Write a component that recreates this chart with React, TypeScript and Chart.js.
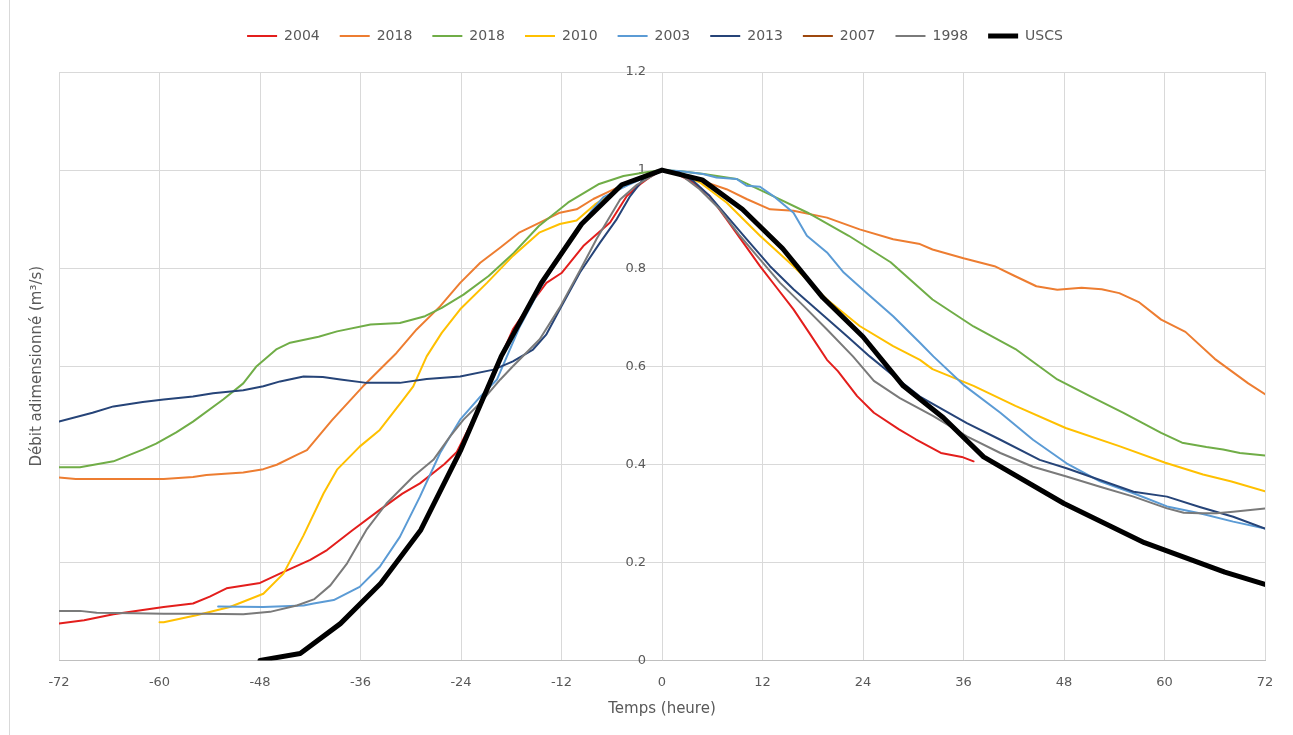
import React, { useEffect, useRef } from "react";
import { Chart, registerables } from "chart.js";

Chart.register(...registerables);

const FONT = "'DejaVu Sans', 'Liberation Sans', sans-serif";
const TEXT = "#595959";
const GRID = "#D9D9D9";

// Axis settings / labels
const xMin = -72;
const xMax = 72;
const xStep = 12;
const yMin = 0;
const yMax = 1.2;
const yStep = 0.2;
const yLabelAt = -1.9; // hour where the value labels sit, just left of the 0 line
const xTitle = "Temps (heure)";
const yTitle = "Débit adimensionné (m³/s)";

// Series
const seriesNames = ["2004", "2018", "2018", "2010", "2003", "2013", "2007", "1998", "USCS"];
const seriesColors = ["#E31E1C", "#ED7D31", "#70AD47", "#FFC000", "#5B9BD5", "#264478", "#9E480E", "#7A7A7A", "#000000"];
const seriesWidths = [2, 2, 2, 2, 2, 2, 2, 2, 5];

const h2004 = [-72, -69, -65.5, -62, -59.5, -56, -54, -52, -48, -45.5, -42, -40, -37, -33.7, -31, -28.9, -26, -24.5, -22, -19.5, -17.8, -16, -13.8, -12, -9.4, -6.2, -4.2, -2.6, -1.5, 0, 2, 3.7, 5.7, 7.7, 9.7, 11.7, 13.7, 15.7, 17.7, 19.7, 21, 23.3, 25.3, 28.3, 30.3, 33.3, 35.8, 37.2];
const q2004 = [0.075, 0.082, 0.094, 0.103, 0.109, 0.116, 0.13, 0.147, 0.158, 0.178, 0.205, 0.225, 0.265, 0.307, 0.34, 0.361, 0.4, 0.425, 0.51, 0.61, 0.675, 0.72, 0.77, 0.79, 0.845, 0.893, 0.947, 0.971, 0.985, 1, 0.99, 0.975, 0.947, 0.9, 0.852, 0.804, 0.76, 0.716, 0.665, 0.613, 0.59, 0.539, 0.505, 0.471, 0.451, 0.423, 0.415, 0.406];

const h2018a = [-72, -70, -66, -62, -59.5, -56, -54.4, -50, -47.6, -46, -43.6, -42.4, -39.4, -35.7, -31.7, -29.3, -26.5, -24.1, -21.7, -19.3, -17, -14.6, -12.2, -10.2, -8.2, -6.6, -4, -2, 0, 2.5, 5.3, 7.7, 10.1, 12.9, 15.7, 19.7, 23.6, 27.6, 30.8, 32.3, 36, 39.7, 42, 44.7, 47.2, 50.1, 52.5, 54.6, 57, 59.6, 62.5, 66, 68, 70, 72];
const q2018a = [0.373, 0.37, 0.37, 0.37, 0.37, 0.374, 0.378, 0.383, 0.39, 0.399, 0.419, 0.429, 0.49, 0.559, 0.627, 0.675, 0.722, 0.77, 0.811, 0.842, 0.873, 0.893, 0.913, 0.92, 0.941, 0.954, 0.975, 0.99, 1, 0.99, 0.975, 0.961, 0.941, 0.92, 0.917, 0.903, 0.879, 0.859, 0.849, 0.838, 0.82, 0.804, 0.785, 0.763, 0.756, 0.76, 0.757, 0.749, 0.73, 0.695, 0.67, 0.615, 0.59, 0.565, 0.543];

const h2018b = [-72, -69.5, -65.5, -62, -60.4, -58, -56, -52.4, -50, -48.4, -46, -44.4, -41, -38.8, -34.8, -31.3, -28.3, -26.3, -23.7, -20.7, -17.7, -14.7, -11.2, -7.6, -4.6, -2.1, 0, 2.5, 5, 8.9, 12.4, 17.4, 22.3, 27.3, 32.3, 37.2, 42.2, 47.2, 51.1, 55.1, 59.6, 62.1, 65, 67, 69, 72];
const q2018b = [0.394, 0.394, 0.406, 0.43, 0.442, 0.465, 0.487, 0.532, 0.565, 0.6, 0.635, 0.648, 0.66, 0.671, 0.685, 0.688, 0.702, 0.719, 0.746, 0.784, 0.831, 0.886, 0.934, 0.971, 0.988, 0.995, 1, 0.997, 0.992, 0.982, 0.954, 0.913, 0.866, 0.812, 0.736, 0.681, 0.635, 0.573, 0.539, 0.505, 0.464, 0.444, 0.435, 0.43, 0.423, 0.418];

const h2010 = [-60, -59.5, -55.6, -51.6, -47.6, -45.2, -42.8, -40.4, -38.8, -36.1, -33.7, -30.9, -29.7, -28.1, -26.3, -24.1, -20.9, -17.8, -14.6, -12.2, -10.2, -8, -4, 0, 1.8, 4.5, 7.7, 11.7, 15.7, 19.7, 23.6, 27.6, 30.8, 32.3, 37.2, 42.2, 48.2, 54.6, 60.1, 64.6, 68, 72];
const q2010 = [0.078, 0.078, 0.092, 0.109, 0.136, 0.177, 0.255, 0.341, 0.389, 0.436, 0.47, 0.532, 0.559, 0.62, 0.668, 0.716, 0.77, 0.825, 0.873, 0.89, 0.897, 0.93, 0.975, 1, 0.995, 0.975, 0.934, 0.866, 0.804, 0.736, 0.682, 0.641, 0.613, 0.594, 0.56, 0.519, 0.474, 0.437, 0.403, 0.379, 0.365, 0.345];

const h2003 = [-53, -47.6, -42.8, -41.6, -39.2, -36.1, -33.7, -31.3, -28.9, -26.5, -24.1, -21.7, -19.7, -17, -14.5, -12, -10, -8.5, -7, -4, -2, 0, 2, 4.9, 6.5, 8.9, 10.1, 11.7, 13.3, 15.7, 17.3, 19.7, 21.7, 24.4, 27.6, 30.8, 32.4, 36, 40.4, 44.3, 48.3, 52.3, 56.3, 60.3, 64.2, 68.2, 72];
const q2003 = [0.11, 0.109, 0.112, 0.116, 0.123, 0.15, 0.191, 0.252, 0.334, 0.423, 0.491, 0.538, 0.573, 0.68, 0.76, 0.83, 0.88, 0.915, 0.945, 0.97, 0.985, 1, 0.998, 0.992, 0.985, 0.982, 0.968, 0.966, 0.947, 0.913, 0.866, 0.832, 0.791, 0.75, 0.702, 0.648, 0.62, 0.562, 0.505, 0.45, 0.402, 0.365, 0.341, 0.314, 0.3, 0.283, 0.269];

const h2013 = [-72, -68, -65.5, -62, -59.5, -56, -53.6, -50, -47.6, -45.6, -42.8, -40.5, -38.4, -35.3, -31.3, -28.1, -24.1, -20.1, -17.8, -15.4, -13.8, -12.2, -9.8, -7.4, -5.4, -3.8, -2.2, 0, 2.1, 3.7, 5.7, 7.7, 10.1, 12.9, 15.7, 18.9, 22.1, 24.8, 27.3, 30.8, 36.4, 40.4, 45.1, 48.3, 52.3, 56.3, 60.3, 64.2, 68.2, 72];
const q2013 = [0.487, 0.505, 0.518, 0.527, 0.532, 0.538, 0.545, 0.551, 0.559, 0.569, 0.579, 0.578, 0.573, 0.566, 0.566, 0.574, 0.579, 0.593, 0.61, 0.634, 0.665, 0.716, 0.791, 0.852, 0.9, 0.947, 0.982, 1, 0.995, 0.978, 0.947, 0.907, 0.859, 0.804, 0.757, 0.709, 0.661, 0.62, 0.585, 0.538, 0.484, 0.45, 0.409, 0.392, 0.368, 0.344, 0.334, 0.313, 0.293, 0.269];

const h2007: number[] = [];
const q2007: number[] = [];

const h1998 = [-72, -69.5, -67.5, -63, -59.5, -54.8, -50, -46.8, -43.6, -41.5, -39.6, -37.6, -35.3, -32.9, -29.7, -27.3, -25.3, -23.7, -21.7, -19.3, -17.8, -14.6, -12.2, -9.8, -7.8, -5, -3, 0, 2.1, 4.5, 6.9, 9.3, 11.7, 14.1, 16.9, 19.7, 22.8, 25.3, 28.4, 32.4, 36.4, 40.4, 44.3, 48.3, 52.3, 56.3, 60.3, 62.3, 64.2, 66.2, 68.2, 72];
const q1998 = [0.101, 0.101, 0.097, 0.096, 0.095, 0.095, 0.094, 0.099, 0.112, 0.125, 0.153, 0.198, 0.266, 0.32, 0.375, 0.409, 0.457, 0.491, 0.525, 0.573, 0.6, 0.655, 0.72, 0.795, 0.86, 0.94, 0.97, 1, 0.992, 0.961, 0.92, 0.866, 0.818, 0.77, 0.723, 0.675, 0.62, 0.57, 0.535, 0.498, 0.457, 0.423, 0.395, 0.375, 0.354, 0.334, 0.31, 0.301, 0.3, 0.3, 0.303, 0.31];

const hUSCS = [-48, -43.2, -38.4, -33.6, -28.8, -24, -19.2, -14.4, -9.6, -4.8, 0, 4.8, 9.6, 14.4, 19.2, 24, 28.8, 33.6, 38.4, 48, 57.6, 67.2, 72];
const qUSCS = [0, 0.014, 0.075, 0.157, 0.266, 0.43, 0.62, 0.77, 0.89, 0.97, 1, 0.98, 0.92, 0.84, 0.74, 0.66, 0.56, 0.495, 0.415, 0.32, 0.24, 0.18, 0.155];

const seriesHours = [h2004, h2018a, h2018b, h2010, h2003, h2013, h2007, h1998, hUSCS];
const seriesValues = [q2004, q2018a, q2018b, q2010, q2003, q2013, q2007, q1998, qUSCS];

const legendSpacer = {
  id: "legendSpacer",
  beforeInit(chart: any) {
    const legend = chart.legend;
    if (!legend) return;
    const fit = legend.fit;
    legend.fit = function () {
      fit.call(this);
      this.height += 19;
    };
  },
  afterLayout(chart: any) {
    const legend = chart.legend;
    if (!legend) return;
    legend.left -= 7;
    legend.right -= 7;
  },
};

const extras = {
  id: "extras",
  afterDraw(chart: any) {
    const ctx = chart.ctx;
    const { top, bottom } = chart.chartArea;
    ctx.save();
    ctx.translate(37, (top + bottom) / 2);
    ctx.rotate(-Math.PI / 2);
    ctx.font = `15px ${FONT}`;
    ctx.fillStyle = TEXT;
    ctx.textAlign = "center";
    ctx.textBaseline = "middle";
    ctx.fillText(yTitle, 0, 0);
    ctx.restore();
    ctx.save();
    ctx.strokeStyle = GRID;
    ctx.lineWidth = 1;
    ctx.beginPath();
    ctx.moveTo(9.5, 0);
    ctx.lineTo(9.5, chart.height);
    ctx.stroke();
    ctx.restore();
  },
};

export default function App() {
  const ref = useRef<HTMLCanvasElement | null>(null);

  useEffect(() => {
    if (!ref.current) return;
    const n = seriesNames.length;
    const datasets = seriesNames.map((name, i) => ({
      label: name,
      data: seriesHours[i].map((h, k) => ({ x: h, y: seriesValues[i][k] })),
      borderColor: seriesColors[i],
      backgroundColor: seriesColors[i],
      borderWidth: seriesWidths[i],
      pointRadius: 0,
      pointHoverRadius: 0,
      pointStyle: "line" as const,
      tension: 0,
      fill: false,
      borderCapStyle: "round" as const,
      borderJoinStyle: "round" as const,
      order: n - 1 - i,
    }));

    const chart = new Chart(ref.current, {
      type: "line",
      data: { datasets },
      plugins: [legendSpacer, extras],
      options: {
        animation: false,
        responsive: true,
        maintainAspectRatio: false,
        layout: { padding: { left: 59, right: 28, top: 9, bottom: 15 } },
        plugins: {
          tooltip: { enabled: false },
          legend: {
            display: true,
            position: "top",
            labels: {
              usePointStyle: true,
              pointStyle: "line",
              pointStyleWidth: 30,
              padding: 20,
              color: TEXT,
              font: { family: FONT, size: 14 },
              sort: (a: any, b: any) => a.datasetIndex - b.datasetIndex,
            },
          },
        },
        scales: {
          x: {
            type: "linear",
            min: xMin,
            max: xMax,
            ticks: {
              stepSize: xStep,
              color: TEXT,
              font: { family: FONT, size: 13 },
              padding: 14,
              maxRotation: 0,
            },
            grid: { color: GRID, drawTicks: false },
            border: { color: "#BFBFBF" },
            title: {
              display: true,
              text: xTitle,
              color: TEXT,
              font: { family: FONT, size: 15 },
              padding: { top: -4, bottom: 2 },
            },
          },
          y: {
            type: "linear",
            position: { x: yLabelAt } as any,
            min: yMin,
            max: yMax,
            ticks: {
              stepSize: yStep,
              color: TEXT,
              font: { family: FONT, size: 13 },
              padding: 0,
              callback: (v: any) => String(Number(Number(v).toFixed(1))),
            },
            grid: { color: GRID, drawTicks: false },
            border: { display: false },
          },
        },
      },
    });
    return () => chart.destroy();
  }, []);

  return (
    <div style={{ position: "fixed", left: 0, top: 0, width: 1293, height: 735, background: "#fff" }}>
      <canvas ref={ref} />
    </div>
  );
}
